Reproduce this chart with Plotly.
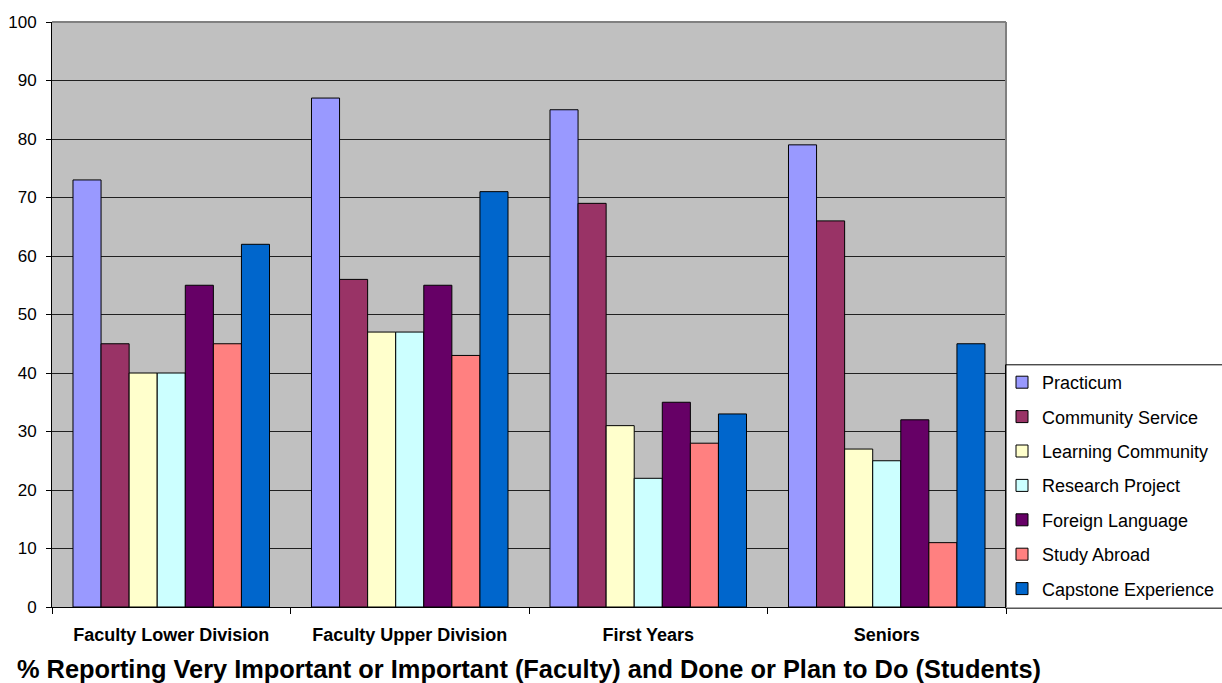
import plotly.graph_objects as go

categories = ["Faculty Lower Division", "Faculty Upper Division", "First Years", "Seniors"]

practicum = [73, 87, 85, 79]
community_service = [45, 56, 69, 66]
learning_community = [40, 47, 31, 27]
research_project = [40, 47, 22, 25]
foreign_language = [55, 55, 35, 32]
study_abroad = [45, 43, 28, 11]
capstone_experience = [62, 71, 33, 45]

series = [
    ("Practicum", practicum, "#9999FF"),
    ("Community Service", community_service, "#993366"),
    ("Learning Community", learning_community, "#FFFFCC"),
    ("Research Project", research_project, "#CCFFFF"),
    ("Foreign Language", foreign_language, "#660066"),
    ("Study Abroad", study_abroad, "#FF8080"),
    ("Capstone Experience", capstone_experience, "#0066CC"),
]

y_ticks = list(range(0, 101, 10))

fig = go.Figure()
for i, (name, vals, color) in enumerate(series):
    fig.add_trace(go.Bar(
        x=categories, y=vals, name=name,
        marker=dict(color=color, line=dict(color="black", width=1)),
        legendgroup=f"g{i}",
    ))

font_family = "Arial, Liberation Sans, sans-serif"

fig.update_layout(
    width=1222, height=683,
    margin=dict(l=52, r=216, t=22, b=76, autoexpand=False),
    paper_bgcolor="white",
    plot_bgcolor="#C0C0C0",
    barmode="group",
    bargap=0.176,
    bargroupgap=0,
    font=dict(family=font_family, color="black", size=16),
    showlegend=True,
    legend=dict(
        x=1.0 - 4 / 954, xanchor="left", y=0.0, yanchor="bottom",
        xref="paper", yref="paper",
        bgcolor="rgba(0,0,0,0)", borderwidth=0,
        font=dict(family=font_family, size=18, color="black"),
        traceorder="grouped", tracegroupgap=8,
    ),
    xaxis=dict(
        type="category",
        tickson="boundaries",
        ticks="outside", ticklen=6, tickcolor="black",
        showline=True, linecolor="black", linewidth=1,
        showgrid=False,
        ticklabelstandoff=11,
        tickfont=dict(family=font_family, size=18, color="black", weight="bold"),
        automargin=False,
        title=dict(
            text="% Reporting Very Important or Important (Faculty) and Done or Plan to Do (Students)",
            font=dict(family=font_family, size=25.4, color="black", weight="bold"),
            standoff=21,
        ),
    ),
    yaxis=dict(
        range=[0, 100],
        tickvals=y_ticks,
        ticks="outside", ticklen=5, tickcolor="black",
        showline=True, linecolor="black", linewidth=1,
        showgrid=True, gridcolor="#202020", gridwidth=1,
        zeroline=False,
        automargin=False,
        ticklabelstandoff=6,
        tickfont=dict(family=font_family, size=17, color="black"),
    ),
)

# gray frame along the top and right edges of the plotting area
fig.add_shape(type="line", xref="paper", yref="paper", x0=0, x1=1, y0=1, y1=1,
              line=dict(color="#808080", width=2))
fig.add_shape(type="line", xref="paper", yref="paper", x0=1, x1=1, y0=0, y1=1,
              line=dict(color="#808080", width=2))

# legend frame
fig.add_shape(type="rect", xref="paper", yref="paper",
              x0=0.9995, x1=1.3, y0=-0.002, y1=0.414,
              line=dict(color="black", width=1), fillcolor="rgba(0,0,0,0)", layer="above")

fig.write_html("out.html")
